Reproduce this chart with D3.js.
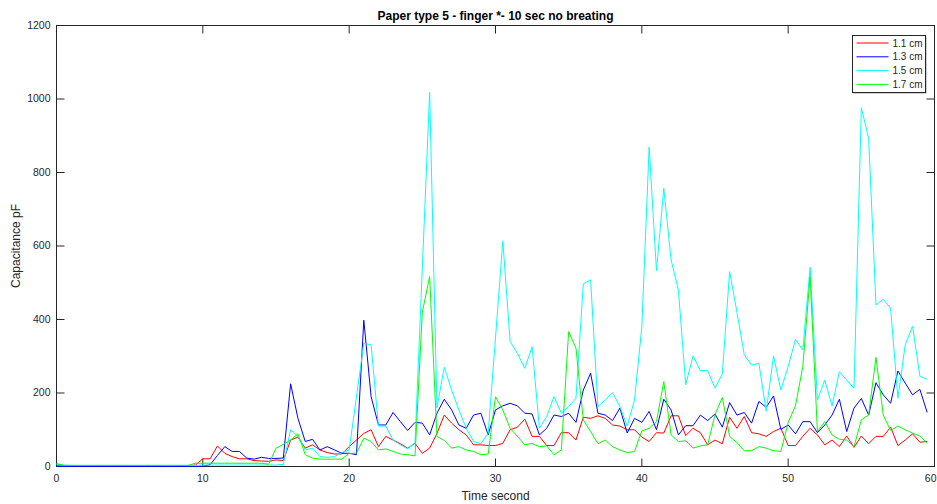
<!DOCTYPE html>
<html>
<head>
<meta charset="utf-8">
<script src="https://cdn.jsdelivr.net/npm/d3@7"></script>
<style>
  body { margin: 0; background: #fff; }
  svg { display: block; }
</style>
</head>
<body>
<svg id="chart"></svg>
<script>
// Data, one sample every 0.5 s (t = 0 .. 59.5)
const sampleStep = 0.5;
const seriesNames = ["1.1 cm", "1.3 cm", "1.5 cm", "1.7 cm"];

const cap11 = [
    2, 2, 2, 2, 2, 2, 2, 2, 2, 2, 2, 2, 2, 2, 2, 0, 0, 0, 2, 4,
    21, 21, 56, 36, 27, 21, 21, 16, 15, 14, 18, 16, 72, 80, 50, 59, 45, 38, 34, 34,
    54, 72, 90, 100, 54, 82, 72, 62, 50, 63, 36, 50, 90, 140, 118, 100, 86, 59, 59, 57,
    57, 63, 100, 107, 129, 82, 82, 57, 57, 92, 92, 72, 134, 131, 138, 131, 113, 110, 100, 100,
    80, 68, 92, 91, 138, 138, 84, 104, 92, 59, 72, 62, 134, 104, 136, 92, 89, 82, 95, 104,
    57, 57, 82, 104, 86, 59, 72, 54, 83, 52, 83, 62, 82, 82, 107, 57, 72, 89, 66, 68
];
const cap13 = [
    0, 0, 0, 0, 0, 0, 0, 0, 0, 0, 0, 0, 0, 0, 0, 0, 0, 0, 0, 0,
    1, 5, 30, 54, 41, 41, 23, 20, 25, 22, 22, 23, 225, 131, 68, 74, 45, 54, 45, 36,
    36, 32, 398, 190, 113, 113, 147, 122, 98, 120, 118, 86, 145, 183, 154, 113, 104, 140, 145, 86,
    154, 165, 172, 165, 145, 143, 86, 104, 140, 136, 145, 120, 208, 254, 145, 140, 125, 159, 91, 131,
    120, 150, 100, 183, 154, 86, 111, 111, 140, 125, 143, 107, 174, 140, 147, 118, 177, 161, 192, 101,
    113, 89, 122, 122, 92, 113, 140, 183, 95, 159, 185, 140, 228, 195, 172, 260, 227, 195, 210, 147
];
const cap15 = [
    6, 4, 3, 3, 3, 3, 3, 3, 3, 3, 3, 3, 3, 3, 3, 3, 3, 3, 3, 3,
    4, 4, 4, 4, 4, 4, 4, 4, 4, 4, 4, 6, 100, 82, 45, 50, 27, 25, 27, 38,
    45, 190, 335, 331, 110, 110, 72, 59, 48, 65, 540, 1018, 160, 270, 208, 154, 104, 68, 62, 90,
    350, 614, 340, 308, 267, 326, 104, 136, 190, 145, 163, 186, 497, 508, 163, 181, 201, 163, 110, 181,
    380, 869, 533, 757, 562, 480, 222, 301, 261, 261, 213, 252, 530, 420, 304, 276, 281, 150, 301, 208,
    272, 346, 317, 542, 181, 235, 165, 258, 235, 213, 976, 893, 440, 455, 431, 186, 331, 382, 246, 237
];
const cap17 = [
    8, 3, 3, 3, 3, 3, 3, 3, 3, 3, 3, 3, 3, 3, 3, 3, 3, 3, 3, 9,
    9, 9, 9, 9, 9, 9, 9, 9, 9, 6, 50, 60, 72, 89, 32, 23, 20, 20, 20, 20,
    36, 36, 77, 68, 45, 48, 41, 34, 32, 29, 420, 517, 82, 71, 50, 54, 45, 41, 32, 34,
    190, 154, 104, 82, 59, 63, 54, 56, 32, 45, 367, 322, 127, 95, 62, 72, 54, 45, 38, 41,
    97, 104, 122, 231, 86, 68, 70, 50, 56, 59, 141, 188, 82, 65, 43, 43, 54, 50, 43, 41,
    120, 165, 272, 517, 95, 122, 86, 74, 72, 54, 127, 140, 297, 140, 98, 110, 100, 91, 83, 63
];

const xTicks = [0, 10, 20, 30, 40, 50, 60];
const yTicks = [0, 200, 400, 600, 800, 1000, 1200];

const chartTitle = "Paper type 5 - finger *- 10 sec no breating";
const xLabel = "Time second";
const yLabel = "Capacitance pF";

// Figure layout (MATLAB-like)
const figWidth = 937;
const figHeight = 504;
const margin = { top: 25.5, right: 2.5, bottom: 37.5, left: 56.5 };
const width = figWidth - margin.left - margin.right;
const height = figHeight - margin.top - margin.bottom;
const axisColor = "#262626";
const fontFamily = "'Liberation Sans', Arial, Helvetica, sans-serif";
const lineColors = ["#ff0000", "#0000ff", "#00ffff", "#00ff00"];

const svg = d3.select("#chart")
    .attr("width", figWidth)
    .attr("height", figHeight)
    .attr("font-family", fontFamily);

const g = svg.append("g").attr("transform", `translate(${margin.left},${margin.top})`);

const x = d3.scaleLinear().domain([0, 60]).range([0, width]);
const y = d3.scaleLinear().domain([0, 1200]).range([height, 0]);

// Ticks point inward on all four sides
const styleAxis = sel => {
    sel.select(".domain").remove();
    sel.selectAll(".tick line").attr("stroke", axisColor);
    sel.selectAll("text").attr("fill", axisColor).attr("font-size", 10.5);
};

g.append("g")
    .attr("transform", `translate(0,${height})`)
    .call(d3.axisBottom(x).tickValues(xTicks).tickSize(-8).tickPadding(8).tickFormat(d3.format("d")).offset(0))
    .call(styleAxis)
    // last label sits on the window edge, keep it inside
    .call(a => a.selectAll(".tick text").filter(d => d === 60)
        .attr("text-anchor", "end").attr("x", 2));

g.append("g")
    .call(d3.axisTop(x).tickValues(xTicks).tickSize(-8).tickFormat("").offset(0))
    .call(styleAxis);

g.append("g")
    .call(d3.axisLeft(y).tickValues(yTicks).tickSize(-8).tickPadding(6).tickFormat(d3.format("d")).offset(0))
    .call(styleAxis);

g.append("g")
    .attr("transform", `translate(${width},0)`)
    .call(d3.axisRight(y).tickValues(yTicks).tickSize(-8).tickFormat("").offset(0))
    .call(styleAxis);

// Axes box
g.append("rect")
    .attr("x", 0)
    .attr("y", 0)
    .attr("width", width)
    .attr("height", height)
    .attr("fill", "none")
    .attr("stroke", axisColor)
    .attr("stroke-width", 1);

// Lines
const seriesValues = [cap11, cap13, cap15, cap17];
const line = d3.line()
    .x((d, i) => x(i * sampleStep))
    .y(d => y(d));

seriesValues.forEach((vals, k) => {
    g.append("path")
        .datum(vals)
        .attr("fill", "none")
        .attr("stroke", lineColors[k])
        .attr("stroke-width", 1)
        .attr("stroke-linejoin", "round")
        .attr("d", line);
});

// Title and axis labels
svg.append("text")
    .attr("x", margin.left + width / 2)
    .attr("y", 19.5)
    .attr("text-anchor", "middle")
    .attr("font-size", 12)
    .attr("font-weight", "bold")
    .attr("fill", "#000")
    .text(chartTitle);

svg.append("text")
    .attr("x", margin.left + width / 2)
    .attr("y", 499.5)
    .attr("text-anchor", "middle")
    .attr("font-size", 12)
    .attr("fill", axisColor)
    .text(xLabel);

svg.append("text")
    .attr("transform", `translate(20,${margin.top + height / 2}) rotate(-90)`)
    .attr("text-anchor", "middle")
    .attr("font-size", 12)
    .attr("fill", axisColor)
    .text(yLabel);

// Legend box, top right
const legend = svg.append("g").attr("transform", "translate(852.5,35.5)");

legend.append("rect")
    .attr("x", 1)
    .attr("y", 1)
    .attr("width", 73)
    .attr("height", 57)
    .attr("fill", "#a0a0a0");

legend.append("rect")
    .attr("width", 73)
    .attr("height", 57)
    .attr("fill", "#fff")
    .attr("stroke", axisColor)
    .attr("stroke-width", 1);

seriesNames.forEach((name, k) => {
    const ly = 7.5 + k * 13.8;
    legend.append("line")
        .attr("x1", 4)
        .attr("x2", 36)
        .attr("y1", ly)
        .attr("y2", ly)
        .attr("stroke", lineColors[k])
        .attr("stroke-width", 1);
    legend.append("text")
        .attr("x", 40)
        .attr("y", ly)
        .attr("dy", "0.35em")
        .attr("font-size", 10)
        .attr("fill", axisColor)
        .text(name);
});
</script>
</body>
</html>
